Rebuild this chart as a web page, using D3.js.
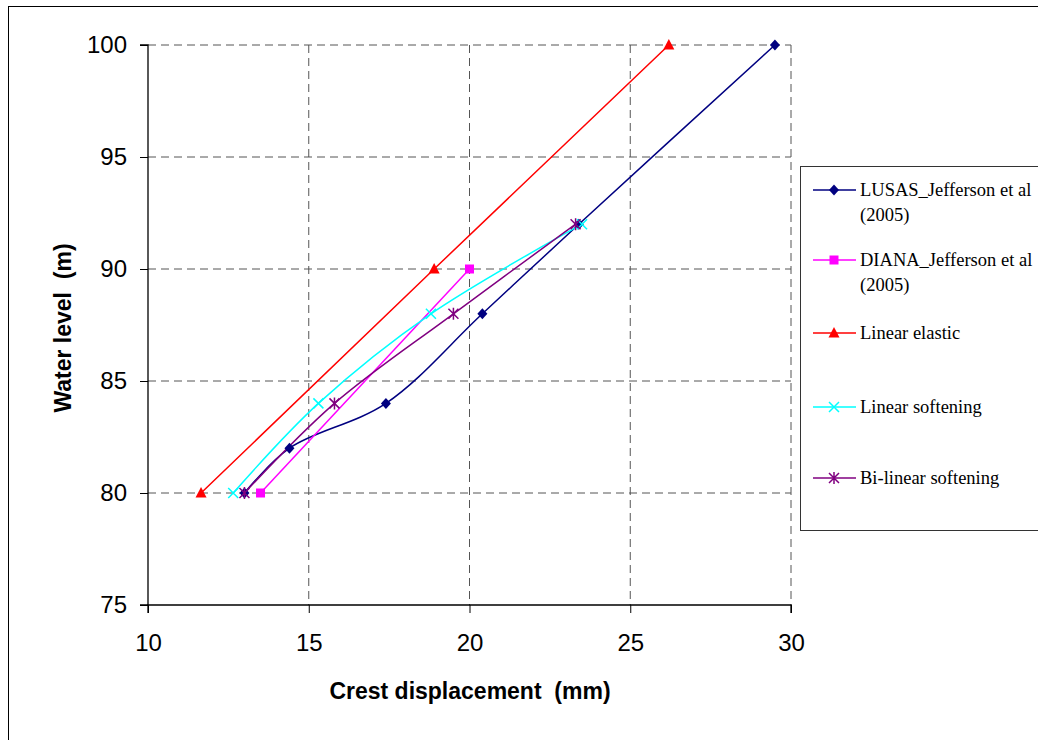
<!DOCTYPE html>
<html><head><meta charset="utf-8">
<script src="https://cdn.jsdelivr.net/npm/d3@7"></script>
<style>body{margin:0;background:#fff}</style>
</head><body><svg id="c" width="1038" height="740"></svg>
<script>
const seriesNames = ["LUSAS_Jefferson et al (2005)", "DIANA_Jefferson et al (2005)", "Linear elastic", "Linear softening", "Bi-linear softening"];
const lusasX = [13.0, 14.4, 17.4, 20.4, 23.4, 29.5];
const lusasY = [80, 82, 84, 88, 92, 100];
const dianaX = [13.5, 20.0];
const dianaY = [80, 90];
const elasticX = [11.65, 18.9, 26.2];
const elasticY = [80, 90, 100];
const softX = [12.65, 15.3, 18.8, 23.5];
const softY = [80, 84, 88, 92];
const bilinX = [13.0, 15.8, 19.5, 23.3];
const bilinY = [80, 84, 88, 92];
const xTicks = [10, 15, 20, 25, 30];
const yTicks = [75, 80, 85, 90, 95, 100];

const svg = d3.select("#c");
svg.append("rect").attr("x",8.5).attr("y",6.5).attr("width",1040).attr("height",740).attr("fill","none").attr("stroke","#000").attr("stroke-width",1);

const L=148, R=791, T=45, B=605;
const x = d3.scaleLinear().domain([10,30]).range([L,R]);
const y = d3.scaleLinear().domain([75,100]).range([B,T]);

// grid
const g = svg.append("g");
xTicks.filter(d=>d>10).forEach(d=>{
  g.append("line").attr("x1",x(d)).attr("x2",x(d)).attr("y1",T).attr("y2",B)
   .attr("stroke","#555").attr("stroke-dasharray","8,5").attr("stroke-width",1);
});
yTicks.filter(d=>d>75).forEach(d=>{
  g.append("line").attr("x1",L).attr("x2",R).attr("y1",y(d)).attr("y2",y(d))
   .attr("stroke","#555").attr("stroke-dasharray","8,5").attr("stroke-width",1);
});

// axes
const xa = svg.append("g").attr("transform",`translate(0,${B})`)
  .call(d3.axisBottom(x).tickValues(xTicks).tickSize(8).tickPadding(21).tickFormat(d3.format("d")));
const ya = svg.append("g").attr("transform",`translate(${L},0)`)
  .call(d3.axisLeft(y).tickValues(yTicks).tickSize(8).tickPadding(13).tickFormat(d3.format("d")));
[xa,ya].forEach(a=>{
  a.select(".domain").attr("stroke","#000").attr("stroke-width",1.3);
  a.selectAll(".tick line").attr("stroke","#000").attr("stroke-width",1);
  a.selectAll("text").attr("font-family","Arial, Liberation Sans, sans-serif").attr("font-size",24).attr("fill","#000");
});
ya.select(".domain").attr("d",`M-8,${T}H0V${B}H-8`);
xa.select(".domain").attr("d",`M${L},8V0H${R}V8`);

svg.append("text").attr("x",470).attr("y",699).attr("text-anchor","middle")
  .attr("font-family","Arial, Liberation Sans, sans-serif").attr("font-weight","bold").attr("font-size",23)
  .attr("xml:space","preserve").text("Crest displacement  (mm)");
svg.append("text").attr("transform","translate(71,328) rotate(-90)").attr("text-anchor","middle")
  .attr("font-family","Arial, Liberation Sans, sans-serif").attr("font-weight","bold").attr("font-size",23)
  .attr("xml:space","preserve").text("Water level  (m)");

const series = [
  {xs:lusasX, ys:lusasY, color:"#000080", marker:"diamond", curve:true},
  {xs:dianaX, ys:dianaY, color:"#FF00FF", marker:"square", curve:false},
  {xs:elasticX, ys:elasticY, color:"#FF0000", marker:"triangle", curve:false},
  {xs:softX, ys:softY, color:"#00FFFF", marker:"x", curve:true},
  {xs:bilinX, ys:bilinY, color:"#800080", marker:"star", curve:true},
];

function drawMarker(sel, type, cx, cy, color){
  const s = 5;
  if(type==="diamond"){
    sel.append("path").attr("d",`M${cx},${cy-s-0.5}L${cx+s},${cy}L${cx},${cy+s+0.5}L${cx-s},${cy}Z`).attr("fill",color);
  } else if(type==="square"){
    sel.append("rect").attr("x",cx-4.5).attr("y",cy-4.5).attr("width",9).attr("height",9).attr("fill",color);
  } else if(type==="triangle"){
    sel.append("path").attr("d",`M${cx},${cy-6}L${cx+5.5},${cy+4.5}L${cx-5.5},${cy+4.5}Z`).attr("fill",color);
  } else if(type==="x"){
    sel.append("path").attr("d",`M${cx-5},${cy-5}L${cx+5},${cy+5}M${cx-5},${cy+5}L${cx+5},${cy-5}`).attr("stroke",color).attr("stroke-width",1.5);
  } else if(type==="star"){
    sel.append("path").attr("d",`M${cx-5},${cy-5}L${cx+5},${cy+5}M${cx-5},${cy+5}L${cx+5},${cy-5}M${cx},${cy-6}L${cx},${cy+6}`).attr("stroke",color).attr("stroke-width",1.5);
  }
}

series.forEach(s=>{
  const pts = s.xs.map((v,i)=>[v,s.ys[i]]);
  const line = d3.line().x(d=>x(d[0])).y(d=>y(d[1])).curve(s.curve ? d3.curveCatmullRom.alpha(0.5) : d3.curveLinear);
  svg.append("path").datum(pts).attr("d",line).attr("fill","none").attr("stroke",s.color).attr("stroke-width",1.5);
});
series.forEach(s=>{
  const mg = svg.append("g");
  s.xs.forEach((v,i)=>drawMarker(mg, s.marker, x(v), y(s.ys[i]), s.color));
});

// legend
svg.append("rect").attr("x",800.5).attr("y",166.5).attr("width",250).attr("height",364).attr("fill","#fff").attr("stroke","#333").attr("stroke-width",1);
const legY = [190, 260, 333, 407, 478];
const legText = [["LUSAS_Jefferson et al","(2005)"],["DIANA_Jefferson et al","(2005)"],["Linear elastic"],["Linear softening"],["Bi-linear softening"]];
series.forEach((s,i)=>{
  const ly = legY[i];
  svg.append("line").attr("x1",813).attr("x2",856).attr("y1",ly).attr("y2",ly).attr("stroke",s.color).attr("stroke-width",1.5);
  drawMarker(svg, s.marker, 834, ly, s.color);
  legText[i].forEach((t,j)=>{
    svg.append("text").attr("x",860).attr("y",ly+6+j*25).attr("font-family","Liberation Serif, Times New Roman, serif")
      .attr("font-size",18.5).attr("fill","#000").text(t);
  });
});
</script></body></html>
